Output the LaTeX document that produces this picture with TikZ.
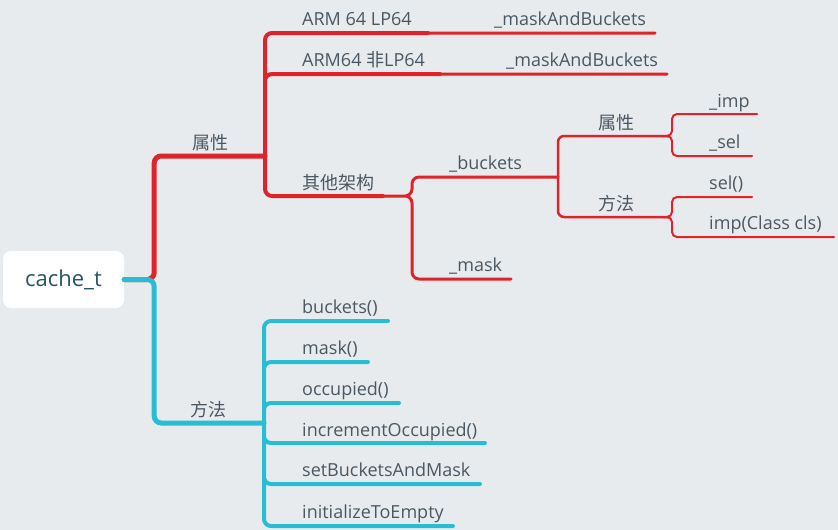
\documentclass[tikz,border=0pt]{standalone}
\usepackage{fontspec}
\setmainfont{Open Sans}
\newfontfamily\cjk{Noto Sans CJK SC}
\definecolor{bg}{RGB}{232,235,238}
\definecolor{ink}{RGB}{74,88,99}
\definecolor{rootink}{RGB}{38,84,104}
\definecolor{brred}{RGB}{223,35,42}
\definecolor{brcyan}{RGB}{41,189,212}

\begin{document}
\begin{tikzpicture}
[x=1pt,y=-1pt,
  topic/.style={anchor=base west,inner sep=0pt,text=ink,font=\fontsize{18}{20}\selectfont},
  rootbox/.style={fill=white,rounded corners=8pt,minimum width=121pt,minimum height=57pt,
    text=rootink,font=\fontsize{22}{24}\selectfont},
  branch/.style={line cap=round,rounded corners=7pt},
  lone/.style={branch,line width=5pt},
  ltwo/.style={branch,line width=4pt},
  lthree/.style={branch,line width=3pt},
  lfour/.style={branch,line width=2.5pt,rounded corners=6pt},
  lfive/.style={branch,line width=2pt,rounded corners=5pt}]

\useasboundingbox (0,0) rectangle (838,530);
\fill [bg] (0,0) rectangle (838,530);

% root
\node [rootbox] (root) at (63.5,279.5) {cache\_t};

% line ends
\coordinate (propE) at (265,156);
\coordinate (armaE) at (428,33);
\coordinate (armbE) at (440,74);
\coordinate (otherE) at (383,196);
\coordinate (mabaE) at (655,33);
\coordinate (mabbE) at (667,74);
\coordinate (bktE) at (558,177);
\coordinate (maskE) at (511,279);
\coordinate (bpropE) at (668,136);
\coordinate (bmethE) at (668,217);
\coordinate (impE) at (757,114);
\coordinate (selE) at (752,156);
\coordinate (selfE) at (752,197);
\coordinate (impfE) at (834,237);

\coordinate (methE) at (264,423);
\coordinate (bucketsE) at (388,321);
\coordinate (maskfE) at (368,362);
\coordinate (occE) at (399,403);
\coordinate (incE) at (485,443);
\coordinate (setE) at (480,484);
\coordinate (initE) at (453,526);

% red branch
\draw [brred,lone] (root.east) -- ++(30,0) |- (propE);
\draw [brred,ltwo] (propE) |- (armaE)
                   (propE) |- (armbE)
                   (propE) |- (otherE);
\draw [brred,lthree] (armaE) -- (mabaE)
                     (armbE) -- (mabbE)
                     (otherE) -- ++(29,0) |- (bktE)
                     (otherE) -- ++(29,0) |- (maskE);
\draw [brred,lfour] (bktE) |- (bpropE)
                    (bktE) |- (bmethE);
\draw [brred,lfive] (bpropE) -- ++(4,0) |- (impE)
                    (bpropE) -- ++(4,0) |- (selE)
                    (bmethE) -- ++(4,0) |- (selfE)
                    (bmethE) -- ++(4,0) |- (impfE);

% cyan branch
\draw [brcyan,lone] (root.east) -- ++(30,0) |- (methE);
\draw [brcyan,ltwo] (methE) |- (bucketsE)
                    (methE) |- (maskfE)
                    (methE) |- (occE)
                    (methE) |- (incE)
                    (methE) |- (setE)
                    (methE) |- (initE);

% labels
\node [topic] (prop) at (192,149) {\cjk 属性};
\node [topic] (arma) at (302,25) {ARM 64 LP64};
\node [topic] (maba) at (494,25) {\_maskAndBuckets};
\node [topic] (armb) at (302,66) {ARM64 {\cjk 非}LP64};
\node [topic] (mabb) at (506,66) {\_maskAndBuckets};
\node [topic] (other) at (302,189) {\cjk 其他架构};
\node [topic] (bkt) at (449,169) {\_buckets};
\node [topic] (mask) at (449,271) {\_mask};
\node [topic] (bprop) at (598,129) {\cjk 属性};
\node [topic] (bmeth) at (598,210) {\cjk 方法};
\node [topic] (imp) at (709,107) {\_imp};
\node [topic] (sel) at (709,148) {\_sel};
\node [topic] (self) at (709,189) {sel()};
\node [topic] (impf) at (709,229) {imp(Class cls)};

\node [topic] (meth) at (190,416) {\cjk 方法};
\node [topic] (buckets) at (302,313) {buckets()};
\node [topic] (maskf) at (302,354) {mask()};
\node [topic] (occ) at (302,395) {occupied()};
\node [topic] (inc) at (302,436) {incrementOccupied()};
\node [topic] (set) at (302,476) {setBucketsAndMask};
\node [topic] (init) at (302,518) {initializeToEmpty};
\end{tikzpicture}
\end{document}
